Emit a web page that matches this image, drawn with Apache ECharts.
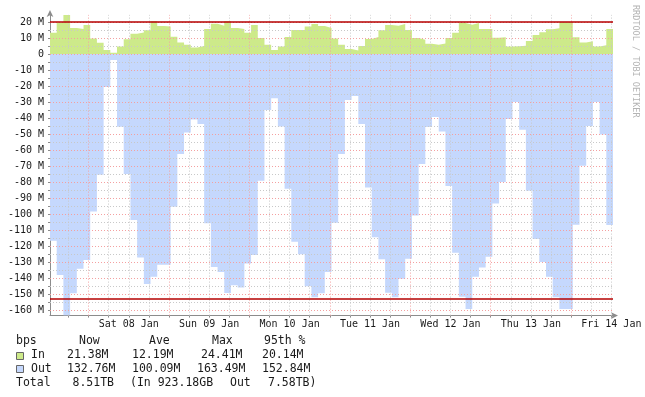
<!DOCTYPE html>
<html>
<head>
<meta charset="utf-8">
<script src="https://cdn.jsdelivr.net/npm/echarts@6/dist/echarts.min.js"></script>
<style>
  html, body { margin: 0; padding: 0; background: #fff; }
  #chart { width: 645px; height: 397px; }
</style>
</head>
<body>
<div id="chart"></div>
<script>
// 2-hour averages, Mbit/s, from Fri 07 Jan 00:30
const inTraffic = [
  13.3, 19.6, 24.4, 16.2, 15.6, 18.1, 9.6, 7.0, 2.5, 0.8, 4.6, 9.2,
  12.7, 13.4, 14.8, 20.4, 17.5, 17.2, 10.7, 7.1, 5.8, 4.0, 5.0, 15.6,
  18.9, 17.7, 20.4, 16.2, 15.6, 13.3, 18.1, 10.0, 5.8, 2.5, 4.6, 10.6,
  15.0, 15.0, 17.1, 18.8, 17.5, 16.3, 9.6, 5.8, 3.1, 2.1, 5.0, 9.4,
  10.6, 14.8, 18.1, 17.7, 18.8, 15.0, 10.0, 8.9, 6.4, 5.8, 6.6, 10.0,
  13.2, 19.4, 18.3, 19.3, 15.6, 15.6, 10.2, 10.5, 4.6, 4.8, 5.2, 8.1,
  11.9, 13.5, 15.4, 16.1, 19.9, 19.9, 10.5, 7.1, 8.0, 4.6, 5.5, 15.6
]
const outTraffic = [
  116.7, 138.1, 163.49, 149.6, 134.2, 128.7, 98.5, 75.4, 20.6, 3.8, 45.5, 75.0,
  103.8, 127.2, 143.8, 139.2, 131.7, 131.7, 95.4, 62.5, 49.0, 41.0, 43.8, 105.8,
  133.1, 136.2, 149.4, 144.5, 145.9, 131.0, 125.6, 79.3, 35.0, 27.6, 45.4, 84.2,
  117.3, 125.1, 145.2, 152.1, 149.6, 136.3, 105.5, 62.5, 28.7, 26.2, 43.7, 83.5,
  114.6, 128.3, 149.2, 152.1, 140.4, 127.9, 101.0, 68.7, 45.6, 39.4, 48.5, 82.5,
  124.2, 151.7, 159.4, 139.2, 133.5, 126.7, 93.5, 80.0, 40.6, 30.0, 47.3, 85.4,
  115.6, 130.0, 139.2, 152.1, 159.4, 159.4, 106.7, 69.8, 45.0, 30.0, 50.4, 106.9
]
const in95 = 20.14
const out95 = 152.84

const yTickValues = [20, 10, 0, -10, -20, -30, -40, -50, -60, -70, -80, -90, -100, -110, -120, -130, -140, -150, -160]
const dayLabels = ['Sat 08 Jan', 'Sun 09 Jan', 'Mon 10 Jan', 'Tue 11 Jan', 'Wed 12 Jan', 'Thu 13 Jan', 'Fri 14 Jan']
const dayTickHours = [23.5, 47.5, 71.5, 95.5, 119.5, 143.5, 167.5]

const statHeader = ['bps', 'Now', 'Ave', 'Max', '95th %']
const inStats = ['21.38M', '12.19M', '24.41M', '20.14M']
const outStats = ['132.76M', '100.09M', '163.49M', '152.84M']
const totalRow = ['Total', '8.51TB', '(In 923.18GB', 'Out', '7.58TB)']

const STEP_H = 2
const X_MAX = inTraffic.length * STEP_H

function stepPoints(values, sign) {
  const pts = values.map((v, i) => [i * STEP_H, sign * v])
  pts.push([values.length * STEP_H, sign * values[values.length - 1]])
  return pts
}

const minorGrid = { color: '#c8c8c8', type: [1, 2], width: 1 }
const majorGrid = { color: '#f4a0a0', type: [1, 2], width: 1 }

const gridLines = []
for (let h = 5.5; h < X_MAX; h += 6) {
  gridLines.push({ xAxis: h, lineStyle: (h - 11.5) % 24 === 0 ? majorGrid : minorGrid })
}
for (let v = -160; v <= 20; v += 5) {
  gridLines.push({ yAxis: v, lineStyle: v % 10 === 0 ? majorGrid : minorGrid })
}
gridLines.push({ yAxis: in95, lineStyle: { color: '#b40000', type: 'solid', width: 1.5 } })
gridLines.push({ yAxis: -out95, lineStyle: { color: '#b40000', type: 'solid', width: 1.5 } })

const minorTicks = []
for (let h = 5.5; h < X_MAX; h += 6) minorTicks.push(h)
const yMinorTicks = []
for (let v = -160; v <= 20; v += 5) yMinorTicks.push(v)

const FONT = 'DejaVu Sans Mono'
const textColor = '#1a1a1a'
const colIn = '#cdea8a'
const colOut = '#c5d8fd'

const headerX = [16, 79, 149, 212, 264]
const inX = [67, 132, 201, 262]
const outX = [67, 132, 197, 262]
const totalX = [16, 72.5, 130, 230, 268]
const rowY = [341.5, 355.5, 369.5, 383]

function txt(x, y, s) {
  return {
    type: 'text', x: x, y: y, silent: true,
    style: { text: s, fill: textColor, font: '11.5px ' + FONT, textVerticalAlign: 'middle' }
  }
}

const legendGraphics = []
statHeader.forEach((s, i) => legendGraphics.push(txt(headerX[i], rowY[0], s)))
legendGraphics.push({
  type: 'rect', shape: { x: 16.5, y: 352.5, width: 7, height: 7 },
  style: { fill: colIn, stroke: '#666', lineWidth: 1 }
})
legendGraphics.push(txt(31, rowY[1], 'In'))
inStats.forEach((s, i) => legendGraphics.push(txt(inX[i], rowY[1], s)))
legendGraphics.push({
  type: 'rect', shape: { x: 16.5, y: 365.5, width: 7, height: 7 },
  style: { fill: colOut, stroke: '#666', lineWidth: 1 }
})
legendGraphics.push(txt(31, rowY[2], 'Out'))
outStats.forEach((s, i) => legendGraphics.push(txt(outX[i], rowY[2], s)))
totalRow.forEach((s, i) => legendGraphics.push(txt(totalX[i], rowY[3], s)))
legendGraphics.push({
  type: 'text', x: 640, y: 5, rotation: -Math.PI / 2, silent: true,
  style: { text: 'RRDTOOL / TOBI OETIKER', fill: '#b4b4b4', font: '8.5px ' + FONT }
})

const option = {
  animation: false,
  backgroundColor: '#fff',
  grid: { left: 50, top: 14.9, width: 563, height: 300.7, outerBoundsMode: 'none', containLabel: false },
  xAxis: {
    type: 'value',
    min: 0,
    max: X_MAX,
    axisLine: {
      show: true,
      onZero: false,
      lineStyle: { color: '#8c8c8c', width: 1 },
      symbol: ['none', 'arrow'],
      symbolSize: [5, 7],
      symbolOffset: [0, 5]
    },
    axisTick: { show: true, length: 2, customValues: minorTicks, lineStyle: { color: '#8c8c8c' } },
    axisLabel: {
      customValues: dayTickHours,
      margin: 4,
      color: textColor,
      fontFamily: FONT,
      fontSize: 10,
      formatter: function (v) { return dayLabels[Math.round((v - dayTickHours[0]) / 24)] }
    },
    splitLine: { show: false }
  },
  yAxis: {
    type: 'value',
    min: -163.49,
    max: 24.41,
    axisLine: {
      show: true,
      onZero: false,
      lineStyle: { color: '#8c8c8c', width: 1 },
      symbol: ['none', 'arrow'],
      symbolSize: [5, 7],
      symbolOffset: [0, 5]
    },
    axisTick: { show: true, length: 2, customValues: yMinorTicks, lineStyle: { color: '#8c8c8c' } },
    axisLabel: {
      customValues: yTickValues,
      margin: 6,
      color: textColor,
      fontFamily: FONT,
      fontSize: 10,
      formatter: function (v) { return v === 0 ? '0' : v + ' M' }
    },
    splitLine: { show: false }
  },
  series: [
    {
      name: 'In',
      type: 'line',
      step: 'end',
      data: stepPoints(inTraffic, 1),
      showSymbol: false,
      lineStyle: { width: 0 },
      areaStyle: { color: colIn, opacity: 1 },
      z: 2
    },
    {
      name: 'Out',
      type: 'line',
      step: 'end',
      data: stepPoints(outTraffic, -1),
      showSymbol: false,
      lineStyle: { width: 0 },
      areaStyle: { color: colOut, opacity: 1 },
      z: 2,
      markLine: {
        silent: true,
        symbol: ['none', 'none'],
        label: { show: false },
        z: 5,
        data: gridLines
      }
    }
  ],
  graphic: legendGraphics
}

const myChart = echarts.init(document.getElementById('chart'), null, { renderer: 'canvas' })
myChart.setOption(option)
</script>
</body>
</html>
